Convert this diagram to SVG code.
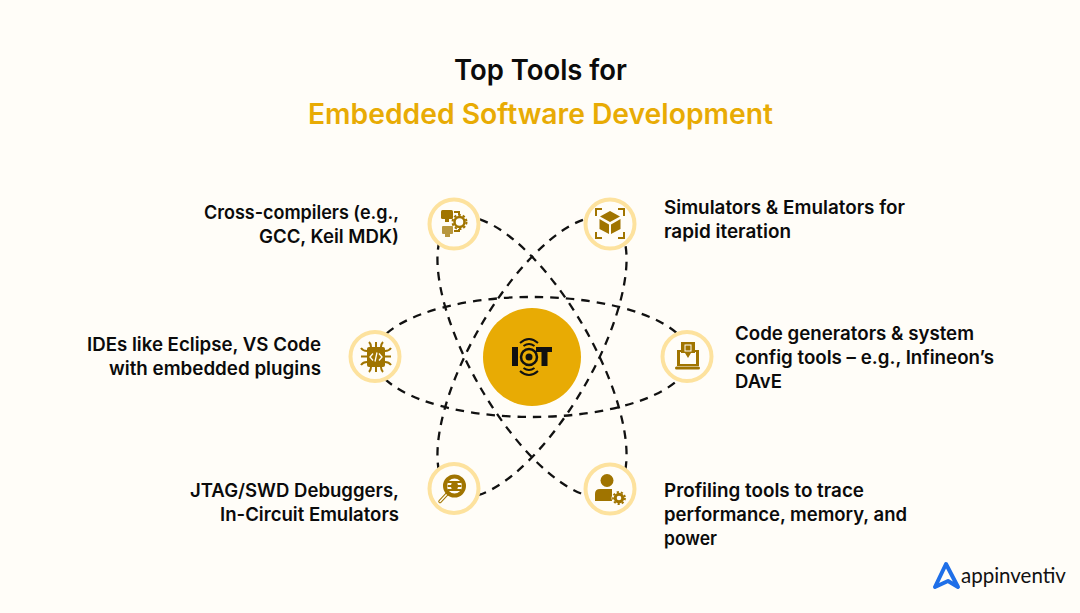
<svg xmlns="http://www.w3.org/2000/svg" width="1080" height="613" viewBox="0 0 1080 613">
<style>
.t{font-family:Inter,"Liberation Sans",sans-serif;font-weight:600;font-size:18.500px;fill:#0b0b0b}
.h{font-family:Inter,"Liberation Sans",sans-serif;font-weight:600;font-size:28px}
.e{text-anchor:end}
.ring{fill:#fffdf8;stroke:#fde29e;stroke-width:4}
.ic{fill:#a07400}
.il{fill:none;stroke:#a07400;stroke-width:2}
.orb{fill:none;stroke:#111;stroke-width:2.300;stroke-dasharray:8.500 7}
</style>
<rect width="1080" height="613" fill="#fffdf8"/>
<g id="title">
<text class="h" x="454" y="79.500" fill="#0b0b0b" textLength="173" lengthAdjust="spacingAndGlyphs">Top Tools for</text>
<text class="h" x="308" y="123.500" fill="#e8ab04" textLength="465" lengthAdjust="spacingAndGlyphs">Embedded Software Development</text>
</g>
<g id="connectors">
<ellipse class="orb" cx="532" cy="357" rx="158" ry="60"/>
<ellipse class="orb" cx="532" cy="357" rx="158" ry="60" transform="rotate(60 532 357)"/>
<ellipse class="orb" cx="532" cy="357" rx="158" ry="60" transform="rotate(-60 532 357)"/>
</g>
<g id="center">
<circle cx="532" cy="357" r="49" fill="#e8ab04"/>
<rect x="512" y="347" width="6" height="19" fill="#111"/>
<rect x="536" y="347" width="16" height="5" fill="#111"/>
<rect x="541.500" y="347" width="6" height="19" fill="#111"/>
<circle cx="529" cy="357" r="8" fill="#e8ab04" stroke="#111" stroke-width="2.500"/>
<circle cx="529" cy="357" r="3.500" fill="#111"/>
<path d="M520 343Q529 335 538 343M523.500 346Q529 342 534.500 346M520 371Q529 379 538 371M523.500 368Q529 372 534.500 368" fill="none" stroke="#111" stroke-width="2"/>
</g>
<g id="node-cross-compilers">
<circle class="ring" cx="454" cy="224" r="24.500"/>
<rect class="ic" x="441" y="210" width="12" height="9" rx="1.500"/><rect class="ic" x="445" y="219" width="4" height="3"/>
<rect class="ic" x="442" y="226" width="11" height="8" rx="1" opacity=".75"/><rect class="ic" x="445" y="234" width="5" height="3" opacity=".75"/>
<circle cx="459.500" cy="222" r="5" fill="none" stroke="#a07400" stroke-width="2.500"/>
<circle cx="459.500" cy="222" r="7" fill="none" stroke="#a07400" stroke-width="2" stroke-dasharray="2.500 2"/>
<path class="il" d="M454 212H459V215M454 231H459V229"/>
</g>
<g id="node-simulators">
<circle class="ring" cx="610" cy="224" r="24.500"/>
<path class="ic" d="M610 211L620 216.500L610 222L600 216.500ZM599.500 219L609 224.500V234L599.500 229ZM620.500 219L611 224.500V234L620.500 229Z"/>
<path class="il" d="M596 216V209H602M618 209H624V216M596 232V238H602M618 238H624V232"/>
</g>
<g id="node-ides">
<circle class="ring" cx="375" cy="356.500" r="24.500"/>
<rect class="ic" x="367" y="347" width="18" height="20" rx="2"/>
<path class="il" d="M367 351Q363 351 361 348M367 356.500H361M367 362Q363 362 361 365M385 351Q389 351 391 348M385 356.500H391M385 362Q389 362 391 365M371 347Q371 344 369 342M376 347V342M381 347Q381 344 383 342M371 367Q371 370 369 372M376 367V372M381 367Q381 370 383 372"/>
<path d="M373 353.500L370 357L373 360.500M379 353.500L382 357L379 360.500M377 352.500L375 361.500" fill="none" stroke="#fffdf8" stroke-width="1.300"/>
</g>
<g id="node-code-generators">
<circle class="ring" cx="687" cy="356.500" r="24.500"/>
<path class="ic" d="M677 350H683V352H680V364H696V352H693V350H699V366H677Z"/>
<rect class="ic" x="675" y="366.500" width="25" height="3" rx="1.500"/>
<path class="ic" d="M681 342H695V353H691L688 358L685 353H681Z"/>
<rect x="685" y="345" width="6" height="6" fill="none" stroke="#fffdf8" stroke-width="1"/>
</g>
<g id="node-debuggers">
<circle class="ring" cx="454" cy="488.500" r="24.500"/>
<path d="M447 494L440 501.500" fill="none" stroke="#a07400" stroke-width="3.500" stroke-linecap="round"/>
<path d="M447 494L440 501.500" fill="none" stroke="#fffdf8" stroke-width="1.500" stroke-linecap="round"/>
<circle cx="454.500" cy="486" r="9.500" fill="#fffdf8" stroke="#a07400" stroke-width="4"/>
<ellipse class="ic" cx="454.500" cy="486" rx="3.500" ry="5"/>
<path class="il" d="M448 482H461M447.500 486H461.500M448 490H461" stroke-width="1"/>
</g>
<g id="node-profiling">
<circle class="ring" cx="610" cy="489" r="24.500"/>
<circle class="ic" cx="607" cy="480.500" r="6.500"/>
<path class="ic" d="M595 501V494Q595 489 600 489H612V501Z"/>
<circle cx="619" cy="498" r="7.500" fill="#fffdf8"/>
<circle cx="619" cy="498" r="3.800" fill="none" stroke="#a07400" stroke-width="3"/>
<circle cx="619" cy="498" r="6" fill="none" stroke="#a07400" stroke-width="1.800" stroke-dasharray="2.200 2"/>
</g>
<g id="labels">
<text class="t e" x="399" y="219" textLength="195" lengthAdjust="spacingAndGlyphs">Cross-compilers (e.g.,</text>
<text class="t e" x="399" y="243" textLength="140" lengthAdjust="spacingAndGlyphs">GCC, Keil MDK)</text>
<text class="t" x="664" y="214" textLength="241" lengthAdjust="spacingAndGlyphs">Simulators &amp; Emulators for</text>
<text class="t" x="664" y="238" textLength="127" lengthAdjust="spacingAndGlyphs">rapid iteration</text>
<text class="t e" x="321" y="351" textLength="234" lengthAdjust="spacingAndGlyphs">IDEs like Eclipse, VS Code</text>
<text class="t e" x="321" y="375" textLength="212" lengthAdjust="spacingAndGlyphs">with embedded plugins</text>
<text class="t" x="735" y="340" textLength="239" lengthAdjust="spacingAndGlyphs">Code generators &amp; system</text>
<text class="t" x="735" y="364" textLength="259" lengthAdjust="spacingAndGlyphs">config tools – e.g., Infineon’s</text>
<text class="t" x="735" y="388" textLength="47" lengthAdjust="spacingAndGlyphs">DAvE</text>
<text class="t e" x="399" y="497" textLength="209" lengthAdjust="spacingAndGlyphs">JTAG/SWD Debuggers,</text>
<text class="t e" x="399" y="521" textLength="179" lengthAdjust="spacingAndGlyphs">In-Circuit Emulators</text>
<text class="t" x="664" y="497" textLength="200" lengthAdjust="spacingAndGlyphs">Profiling tools to trace</text>
<text class="t" x="664" y="521" textLength="243" lengthAdjust="spacingAndGlyphs">performance, memory, and</text>
<text class="t" x="664" y="545" textLength="53" lengthAdjust="spacingAndGlyphs">power</text>
</g>
<g id="logo">
<path d="M935 587L946 564L958 587L948 581Z" fill="none" stroke="#1f6fe8" stroke-width="4" stroke-linejoin="round"/>
<text x="961" y="583" font-family="Lato,'Liberation Sans',sans-serif" font-size="20.500" font-weight="400" fill="#111">appinventiv</text>
</g>
</svg>
